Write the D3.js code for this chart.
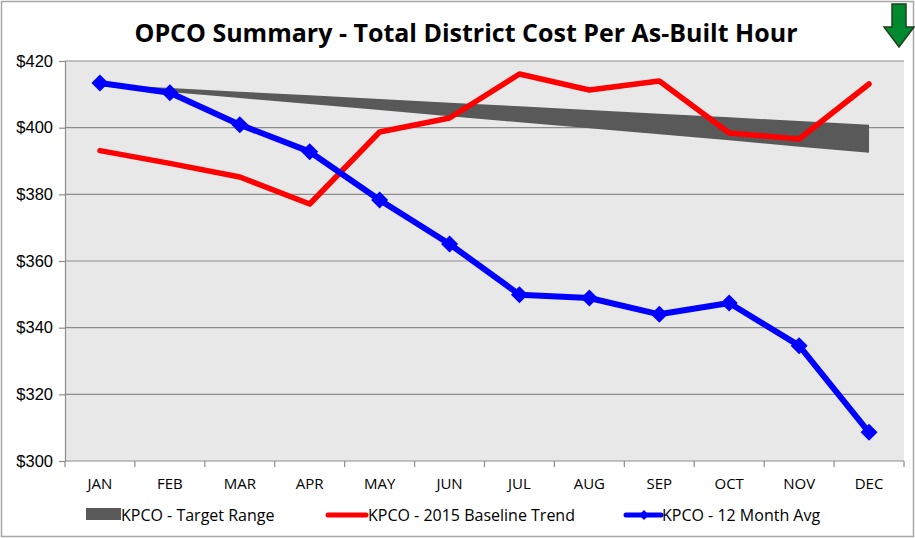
<!DOCTYPE html>
<html>
<head>
<meta charset="utf-8">
<script src="https://cdn.jsdelivr.net/npm/d3@7"></script>
<style>
  body { margin: 0; background: #fff; }
  svg { display: block; font-family: "Open Sans", sans-serif; }
</style>
</head>
<body>
<svg id="chart" width="915" height="538"></svg>
<script>
// OPCO summary — target band, baseline trend and 12-month average by month

const MONTHS = ["JAN", "FEB", "MAR", "APR", "MAY", "JUN", "JUL", "AUG", "SEP", "OCT", "NOV", "DEC"];
const TARGET_HIGH = [413.0, 411.9, 410.8, 409.7, 408.6, 407.5, 406.4, 405.3, 404.2, 403.1, 402.0, 400.9];
const TARGET_LOW = [412.5, 410.7, 408.9, 407.1, 405.3, 403.4, 401.6, 399.8, 398.0, 396.2, 394.3, 392.5];
const BASELINE = [393.1, 389.3, 385.2, 377.1, 398.7, 402.9, 416.1, 411.3, 414.0, 398.4, 396.6, 413.1];
const AVG_12M = [413.4, 410.5, 400.9, 392.8, 378.3, 365.1, 349.9, 348.9, 344.0, 347.4, 334.6, 308.6];
const Y_TICKS = [300, 320, 340, 360, 380, 400, 420];
const LEGEND = ["KPCO - Target Range", "KPCO - 2015 Baseline Trend", "KPCO - 12 Month Avg"];

const BAND = "#595959", RED = "#ff0000", BLUE = "#0000ff";

const svg = d3.select("#chart");
const M = { top: 61, right: 11, bottom: 77, left: 65 };
const W = 915, H = 538;

// outer frame
svg.append("rect").attr("x", 1.5).attr("y", 1.5).attr("width", W - 3).attr("height", H - 3)
  .attr("fill", "#fff").attr("stroke", "#a6a6a6").attr("stroke-width", 1.5);

const x = d3.scaleBand().domain(MONTHS).range([M.left, W - M.right]);
const y = d3.scaleLinear().domain([300, 420]).range([H - M.bottom, M.top]);
const cx = m => x(m) + x.bandwidth() / 2;

// plot background
svg.append("rect").attr("x", M.left).attr("y", M.top)
  .attr("width", W - M.right - M.left).attr("height", H - M.bottom - M.top)
  .attr("fill", "#e8e8e8");

// gridlines
svg.append("g").selectAll("line").data(Y_TICKS.filter(d => d > 300)).enter()
  .append("line")
  .attr("x1", M.left).attr("x2", W - M.right)
  .attr("y1", d => y(d)).attr("y2", d => y(d))
  .attr("stroke", "#8c8c8c").attr("stroke-width", 1.2);

// y axis
const yAxis = svg.append("g").attr("transform", `translate(${M.left},0)`)
  .call(d3.axisLeft(y).tickValues(Y_TICKS).tickSize(6).tickPadding(6).tickFormat(d => "$" + d));
yAxis.selectAll("path, line").attr("stroke", "#8c8c8c").attr("stroke-width", 1.2);
yAxis.selectAll("text").attr("font-size", 16.5).attr("fill", "#000");

// x axis, ticks at category boundaries
const xAxisG = svg.append("g").attr("transform", `translate(0,${H - M.bottom})`);
xAxisG.append("line").attr("x1", M.left).attr("x2", W - M.right)
  .attr("stroke", "#8c8c8c").attr("stroke-width", 1.2);
xAxisG.selectAll(".tk").data(MONTHS.concat([null])).enter()
  .append("line")
  .attr("x1", (d, i) => i < MONTHS.length ? x(d) : W - M.right)
  .attr("x2", (d, i) => i < MONTHS.length ? x(d) : W - M.right)
  .attr("y1", 0).attr("y2", 6)
  .attr("stroke", "#8c8c8c").attr("stroke-width", 1.2);
xAxisG.selectAll("text").data(MONTHS).enter()
  .append("text")
  .attr("x", d => cx(d)).attr("y", 28)
  .attr("text-anchor", "middle").attr("font-size", 15).attr("fill", "#000")
  .text(d => d);

// target range band
const bandData = MONTHS.map((m, i) => ({ m, lo: TARGET_LOW[i], hi: TARGET_HIGH[i] }));
svg.append("path").datum(bandData)
  .attr("d", d3.area().x(d => cx(d.m)).y0(d => y(d.lo)).y1(d => y(d.hi)))
  .attr("fill", BAND);

// baseline trend
const line = d3.line().x(d => cx(d.m)).y(d => y(d.v));
svg.append("path").datum(MONTHS.map((m, i) => ({ m, v: BASELINE[i] })))
  .attr("d", line).attr("fill", "none").attr("stroke", RED)
  .attr("stroke-width", 5.5).attr("stroke-linejoin", "round").attr("stroke-linecap", "round");

// 12 month avg with diamonds
const avgData = MONTHS.map((m, i) => ({ m, v: AVG_12M[i] }));
svg.append("path").datum(avgData)
  .attr("d", line).attr("fill", "none").attr("stroke", BLUE)
  .attr("stroke-width", 6).attr("stroke-linejoin", "round");
svg.append("g").selectAll("path").data(avgData).enter()
  .append("path")
  .attr("transform", d => `translate(${cx(d.m)},${y(d.v)})`)
  .attr("d", "M0,-8.5L8.5,0L0,8.5L-8.5,0Z")
  .attr("fill", BLUE);

// title
svg.append("text").attr("x", 466).attr("y", 42)
  .attr("text-anchor", "middle").attr("font-size", 25).attr("font-weight", "bold")
  .attr("fill", "#000")
  .text("OPCO Summary - Total District Cost Per As-Built Hour");

// green down arrow, top right
svg.append("path")
  .attr("d", "M892,4L906,4L906,27L914,27L899,47L884,27L892,27Z")
  .attr("fill", "#00892f").attr("stroke", "#1f3f1f").attr("stroke-width", 1.5);

// legend
const lg = svg.append("g").attr("font-size", 16).attr("fill", "#000");
lg.append("rect").attr("x", 86).attr("y", 508).attr("width", 35).attr("height", 12).attr("fill", BAND);
lg.append("text").attr("x", 121).attr("y", 521).text(LEGEND[0]);
lg.append("line").attr("x1", 328).attr("x2", 366).attr("y1", 515).attr("y2", 515)
  .attr("stroke", RED).attr("stroke-width", 5).attr("stroke-linecap", "round");
lg.append("text").attr("x", 368).attr("y", 521).text(LEGEND[1]);
lg.append("line").attr("x1", 626).attr("x2", 661).attr("y1", 515).attr("y2", 515)
  .attr("stroke", BLUE).attr("stroke-width", 5).attr("stroke-linecap", "round");
lg.append("path").attr("transform", "translate(644,515)").attr("d", "M0,-5L5,0L0,5L-5,0Z").attr("fill", BLUE);
lg.append("text").attr("x", 662).attr("y", 521).text(LEGEND[2]);
</script>
</body>
</html>
